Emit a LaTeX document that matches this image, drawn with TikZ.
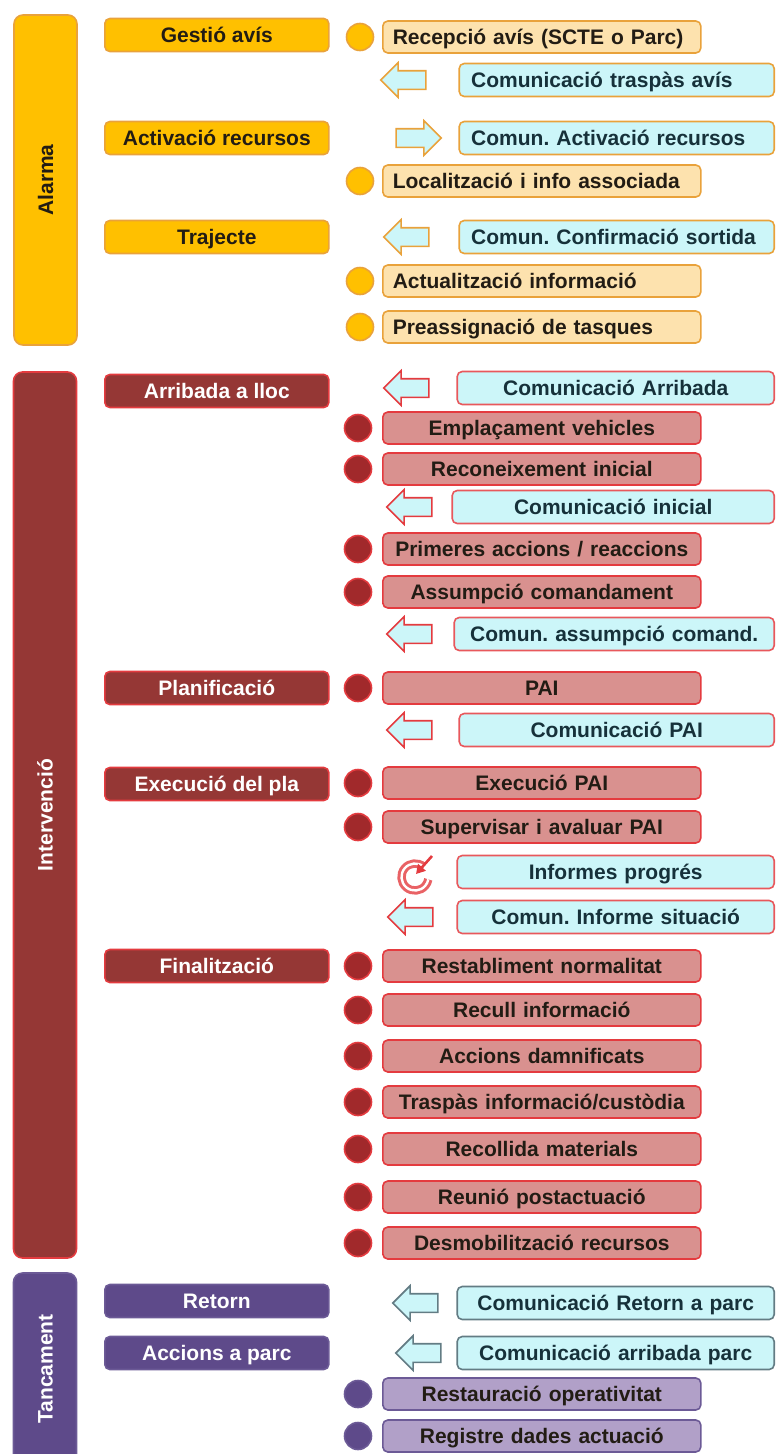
\documentclass[tikz,border=0pt]{standalone}
\usepackage{fontspec}
\setmainfont{Liberation Sans}
\usetikzlibrary{shapes.arrows,arrows.meta,calc}
\frenchspacing

% palette
\definecolor{gold}{HTML}{FFC000}
\definecolor{goldline}{HTML}{E9A23B}
\definecolor{peach}{HTML}{FDE2AE}
\definecolor{aqua}{HTML}{CCF6F9}
\definecolor{wine}{HTML}{953735}
\definecolor{redline}{HTML}{E43B3F}
\definecolor{dotred}{HTML}{A1292B}
\definecolor{rose}{HTML}{D9918F}
\definecolor{plum}{HTML}{5E4A8A}
\definecolor{plumline}{HTML}{6C5A96}
\definecolor{lilac}{HTML}{B1A0C8}
\definecolor{slate}{HTML}{637C84}
\definecolor{ink}{HTML}{221C14}
\definecolor{tealink}{HTML}{16313A}

\tikzset{
  base/.style={rounded corners=5pt, line width=1.6pt, inner sep=0pt,
    text height=15pt, text depth=0pt,
    font=\bfseries\fontsize{21}{24}\selectfont},
  phase/.style={base, minimum width=224pt, minimum height=33pt, anchor=west},
  task/.style={base, minimum width=318pt, minimum height=32pt, anchor=west,
    inner xsep=10pt, text width=298pt, text=ink},
  comm/.style={base, minimum height=33pt, anchor=east, inner xsep=12pt,
    fill=aqua, text=tealink},
  dot/.style={circle, minimum size=27pt, inner sep=0pt, line width=1.6pt},
  larrow/.style={single arrow, shape border rotate=180, inner sep=8.5pt,
    single arrow head extend=8pt, minimum height=45pt, fill=aqua, line width=1.6pt},
  rarrow/.style={larrow, shape border rotate=0},
  bar/.style={rounded corners=9pt, line width=1.6pt, rotate=90,
    minimum height=63pt, inner sep=0pt, text height=15pt, text depth=0pt,
    font=\bfseries\fontsize{21}{24}\selectfont},
}

\begin{document}
\begin{tikzpicture}[x=1pt, y=-1pt]
\useasboundingbox (0,0) rectangle (776,1454);
\clip (0,0) rectangle (776,1454);

% ---------------- Alarma ----------------
\node[bar, fill=gold, draw=goldline, text=ink, minimum width=330pt] (alarma) at (45.5,180) {Alarma};

\node[phase, fill=gold, draw=goldline, text=ink] (gestio) at (104,35) {Gestió avís};
\node[phase, fill=gold, draw=goldline, text=ink] (activacio) at (104,138) {Activació recursos};
\node[phase, fill=gold, draw=goldline, text=ink] (trajecte) at (104,237) {Trajecte};

\tikzset{atask/.style={task, fill=peach, draw=goldline, align=left},
         acomm/.style={comm, draw=goldline, text width=291pt, align=left},
         adot/.style={dot, fill=gold, draw=goldline}}

\node[adot] (d1) at (360,37) {};
\node[atask] (recepcio) at (382,37) {Recepció avís (SCTE o Parc)};
\node[larrow, draw=goldline] (a1) at (408,80) {};
\node[acomm] (traspas) at (775,80) {Comunicació traspàs avís};
\node[rarrow, draw=goldline] (a2) at (414,138) {};
\node[acomm] (comact) at (775,138) {Comun. Activació recursos};
\node[adot] (d2) at (360,181) {};
\node[atask] (localitzacio) at (382,181) {Localització i info associada};
\node[larrow, draw=goldline] (a3) at (411,237) {};
\node[acomm] (confirmacio) at (775,237) {Comun. Confirmació sortida};
\node[adot] (d3) at (360,281) {};
\node[atask] (actualitzacio) at (382,281) {Actualització informació};
\node[adot] (d4) at (360,327) {};
\node[atask] (preassignacio) at (382,327) {Preassignació de tasques};

% ---------------- Intervenció ----------------
\node[bar, fill=wine, draw=redline, text=white, minimum width=886pt] (intervencio) at (45,815) {Intervenció};

\node[phase, fill=wine, draw=redline, text=white] (arribada) at (104,391) {Arribada a lloc};
\node[phase, fill=wine, draw=redline, text=white] (planificacio) at (104,688) {Planificació};
\node[phase, fill=wine, draw=redline, text=white] (execucio) at (104,784) {Execució del pla};
\node[phase, fill=wine, draw=redline, text=white] (finalitzacio) at (104,966) {Finalització};

\tikzset{itask/.style={task, fill=rose, draw=redline, align=center},
         icomm/.style={comm, draw=redline!85, align=center},
         idot/.style={dot, fill=dotred, draw=redline}}

\node[larrow, draw=redline] (b1) at (411,388) {};
\node[icomm, text width=293pt] (comarribada) at (775,388) {Comunicació Arribada};
\node[idot] (e1) at (358,428) {};
\node[itask] (emplacament) at (382,428) {Emplaçament vehicles};
\node[idot] (e2) at (358,469) {};
\node[itask] (reconeixement) at (382,469) {Reconeixement inicial};
\node[larrow, draw=redline] (b2) at (414,507) {};
\node[icomm, text width=298pt] (cominicial) at (775,507) {Comunicació inicial};
\node[idot] (e3) at (358,549) {};
\node[itask] (primeres) at (382,549) {Primeres accions / reaccions};
\node[idot] (e4) at (358,592) {};
\node[itask] (assumpcio) at (382,592) {Assumpció comandament};
\node[larrow, draw=redline] (b3) at (414,634) {};
\node[icomm, text width=296pt] (comassumpcio) at (775,634) {Comun. assumpció comand.};
\node[idot] (e5) at (358,688) {};
\node[itask] (pai) at (382,688) {PAI};
\node[larrow, draw=redline] (b4) at (414,730) {};
\node[icomm, text width=291pt] (compai) at (775,730) {Comunicació PAI};
\node[idot] (e6) at (358,783) {};
\node[itask] (execpai) at (382,783) {Execució PAI};
\node[idot] (e7) at (358,827) {};
\node[itask] (supervisar) at (382,827) {Supervisar i avaluar PAI};

% cycle icon beside the progress reports
\coordinate (cyc) at (415,877);
\draw[redline!80, line width=3pt, double=white, double distance=2.4pt]
  (cyc) ++(-50:13.5) arc[start angle=-50, end angle=-350, radius=13.5];
\draw[redline, line width=2.6pt, -{Triangle[length=9pt,width=10pt]}]
  ($(cyc)+(17,-21)$) -- ($(cyc)+(1,-3)$);
\node[icomm, text width=293pt] (informes) at (775,872) {Informes progrés};
\node[larrow, draw=redline] (b5) at (415,917) {};
\node[icomm, text width=293pt] (informe) at (775,917) {Comun. Informe situació};

\node[idot] (e8) at (358,966) {};
\node[itask] (restabliment) at (382,966) {Restabliment normalitat};
\node[idot] (e9) at (358,1010) {};
\node[itask] (recull) at (382,1010) {Recull informació};
\node[idot] (e10) at (358,1056) {};
\node[itask] (damnificats) at (382,1056) {Accions damnificats};
\node[idot] (e11) at (358,1102) {};
\node[itask] (custodia) at (382,1102) {Traspàs informació/custòdia};
\node[idot] (e12) at (358,1149) {};
\node[itask] (recollida) at (382,1149) {Recollida materials};
\node[idot] (e13) at (358,1197) {};
\node[itask] (reunio) at (382,1197) {Reunió postactuació};
\node[idot] (e14) at (358,1243) {};
\node[itask] (desmobilitzacio) at (382,1243) {Desmobilització recursos};

% ---------------- Tancament ----------------
\node[bar, fill=plum, draw=plumline, text=white, minimum width=192pt] (tancament) at (45,1369) {Tancament};

\node[phase, fill=plum, draw=plumline, text=white] (retorn) at (104,1301) {Retorn};
\node[phase, fill=plum, draw=plumline, text=white] (accionsparc) at (104,1353) {Accions a parc};

\tikzset{ttask/.style={task, fill=lilac, draw=plumline, align=center},
         tcomm/.style={comm, draw=slate, text width=293pt, align=center},
         tdot/.style={dot, fill=plum, draw=plumline}}

\node[larrow, draw=slate] (c1) at (420,1303) {};
\node[tcomm] (comretorn) at (775,1303) {Comunicació Retorn a parc};
\node[larrow, draw=slate] (c2) at (423,1353) {};
\node[tcomm] (comarribparc) at (775,1353) {Comunicació arribada parc};
\node[tdot] (f1) at (358,1394) {};
\node[ttask] (restauracio) at (382,1394) {Restauració operativitat};
\node[tdot] (f2) at (358,1436) {};
\node[ttask] (registre) at (382,1436) {Registre dades actuació};

\end{tikzpicture}
\end{document}
